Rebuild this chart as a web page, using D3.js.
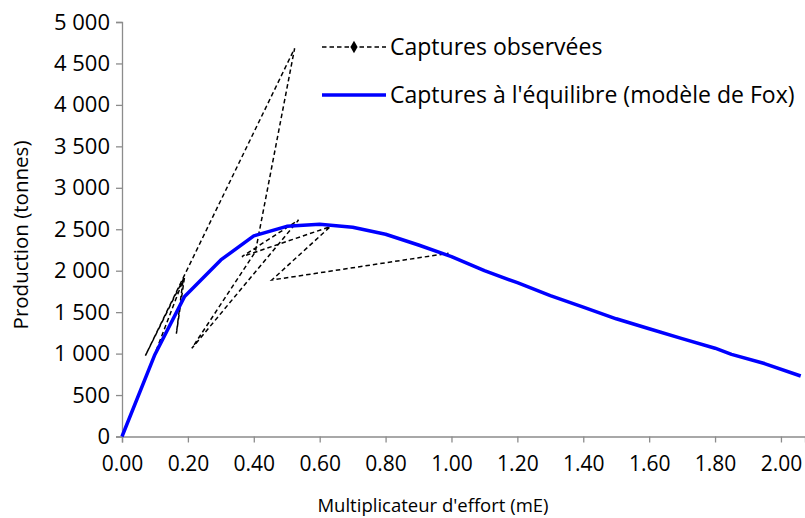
<!DOCTYPE html>
<html>
<head>
<meta charset="utf-8">
<script src="https://cdn.jsdelivr.net/npm/d3@7"></script>
<style>
  body { margin: 0; background: #fff; }
  text { font-family: "Open Sans", "Liberation Sans", sans-serif; fill: #000; }
</style>
</head>
<body>
<svg width="805" height="518"></svg>
<script>
// observed catches, in year order
const obsEffort = [0.104, 0.185, 0.165, 0.19, 0.071, 0.524, 0.405, 0.212, 0.536, 0.364, 0.632, 0.455, 0.991];
const obsCatch  = [1040, 1880, 1240, 1930, 975, 4683, 2230, 1064, 2612, 2169, 2531, 1888, 2210];

// equilibrium catches (Fox model)
const foxEffort = [0, 0.1, 0.19, 0.3, 0.4, 0.5, 0.6, 0.7, 0.8, 0.9, 1.0, 1.1, 1.2, 1.3, 1.4, 1.5, 1.6, 1.7, 1.8, 1.85, 1.95, 2.06];
const foxCatch  = [0, 990, 1690, 2130, 2420, 2535, 2560, 2525, 2440, 2310, 2170, 2000, 1855, 1700, 1560, 1420, 1300, 1180, 1065, 990, 880, 730];

const xTicks = [0, 0.2, 0.4, 0.6, 0.8, 1.0, 1.2, 1.4, 1.6, 1.8, 2.0];
const yTicks = [0, 500, 1000, 1500, 2000, 2500, 3000, 3500, 4000, 4500, 5000];

const legendLabels = ["Captures observées", "Captures à l'équilibre (modèle de Fox)"];

const svg = d3.select("svg");
const axisColor = "#8c8c8c";

const x = d3.scaleLinear().domain([0, 2.073]).range([122, 805]);
const y = d3.scaleLinear().domain([0, 5000]).range([436.5, 22]);

const fmtY = d => d3.format(",")(d).replace(",", " ");

// y axis
const yAxis = svg.append("g")
  .attr("transform", "translate(122,0)")
  .call(d3.axisLeft(y).tickValues(yTicks).tickSize(6).tickPadding(6).tickFormat(fmtY));

// x axis
const xAxis = svg.append("g")
  .attr("transform", "translate(0,436.5)")
  .call(d3.axisBottom(x).tickValues(xTicks).tickSize(6).tickPadding(14).tickFormat(d3.format(".2f")));

[xAxis, yAxis].forEach(function(a) {
  a.select(".domain").attr("stroke", axisColor).attr("stroke-width", 1.3);
  a.selectAll(".tick line").attr("stroke", axisColor).attr("stroke-width", 1.3);
  a.selectAll(".tick text").attr("fill", "#000");
});
yAxis.selectAll(".tick text").style("font-size", "22px");
xAxis.selectAll(".tick text").style("font-size", "21px");

// axis titles
svg.append("text")
  .attr("x", 433).attr("y", 512)
  .attr("text-anchor", "middle")
  .style("font-size", "18.5px")
  .text("Multiplicateur d'effort (mE)");

svg.append("text")
  .attr("transform", "translate(28,235) rotate(-90)")
  .attr("text-anchor", "middle")
  .style("font-size", "20.5px")
  .text("Production (tonnes)");

// observed series
const obs = obsEffort.map((e, i) => ({e: e, c: obsCatch[i]}));
const fox = foxEffort.map((e, i) => ({e: e, c: foxCatch[i]}));

const line = d3.line()
  .x(d => x(d.e))
  .y(d => y(d.c));

svg.append("path")
  .datum(obs)
  .attr("d", line)
  .attr("fill", "none")
  .attr("stroke", "#000")
  .attr("stroke-width", 1.5)
  .attr("stroke-dasharray", "4.5,3");

svg.append("path")
  .datum(fox)
  .attr("d", line)
  .attr("fill", "none")
  .attr("stroke", "#0000ff")
  .attr("stroke-width", 3.5)
  .attr("stroke-linejoin", "round");

// legend
const legend = svg.append("g");

legend.append("line")
  .attr("x1", 322).attr("x2", 386).attr("y1", 47).attr("y2", 47)
  .attr("stroke", "#000").attr("stroke-width", 1.5).attr("stroke-dasharray", "4.5,3");

legend.append("path")
  .attr("d", d3.symbol(d3.symbolDiamond, 45)())
  .attr("transform", "translate(354,47)")
  .attr("fill", "#000");

legend.append("line")
  .attr("x1", 322).attr("x2", 386).attr("y1", 95).attr("y2", 95)
  .attr("stroke", "#0000ff").attr("stroke-width", 3.5);

legend.selectAll("text.label")
  .data(legendLabels)
  .enter()
  .append("text")
  .attr("class", "label")
  .attr("x", 390)
  .attr("y", (d, i) => 47 + i * 48)
  .attr("dy", "0.35em")
  .style("font-size", "23px")
  .text(d => d);
</script>
</body>
</html>
